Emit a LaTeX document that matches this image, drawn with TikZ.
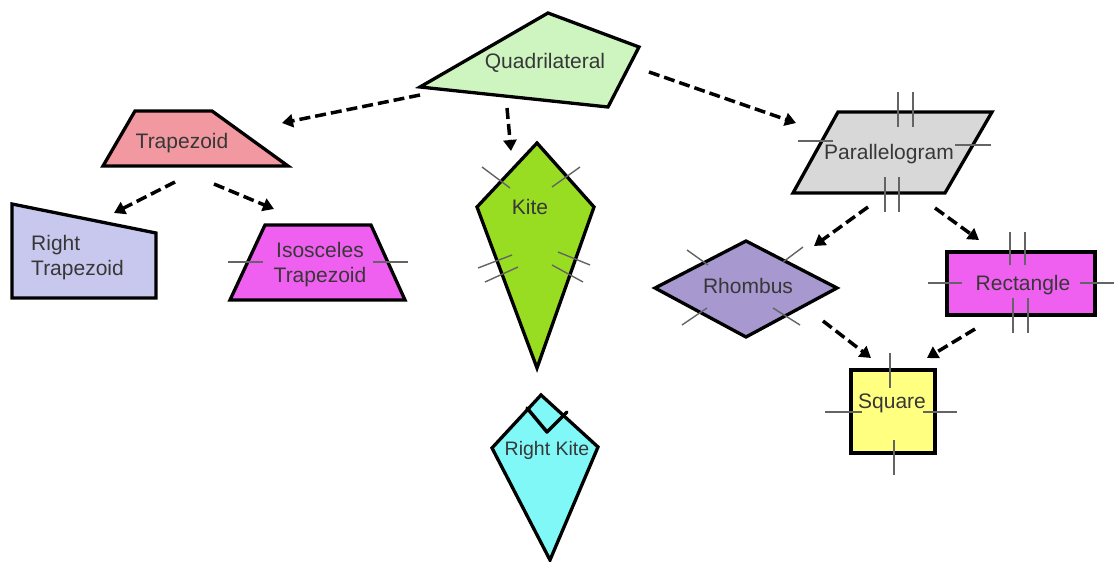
\documentclass[tikz,border=0pt]{standalone}
\usepackage{fontspec}
\setmainfont{Liberation Sans}
\usetikzlibrary{arrows.meta}
\definecolor{cQuad}{RGB}{206,245,192}
\definecolor{cTrap}{RGB}{242,152,160}
\definecolor{cRTrap}{RGB}{200,200,238}
\definecolor{cMag}{RGB}{240,96,240}
\definecolor{cKite}{RGB}{153,221,34}
\definecolor{cRKite}{RGB}{128,248,248}
\definecolor{cPara}{RGB}{216,216,216}
\definecolor{cRhom}{RGB}{168,152,208}
\definecolor{cSq}{RGB}{255,255,128}
\definecolor{tickgray}{RGB}{100,100,100}
\definecolor{labelgray}{RGB}{55,55,55}
\begin{document}
\begin{tikzpicture}[x=1pt,y=-1pt,
  shapeline/.style={draw=black,line width=3.3pt,line join=miter},
  tickline/.style={draw=tickgray,line width=1.4pt},
  rightmark/.style={draw=black,line width=3.5pt,line join=round,line cap=round},
  isa/.style={draw=black,line width=3.5pt,dash pattern=on 11pt off 5pt,-{Triangle[length=11pt,width=13pt]}},
  lbl/.style={text=labelgray,font=\fontsize{21}{25}\selectfont,inner sep=0pt,align=center}]
\useasboundingbox (0,0) rectangle (1114,562);
% ---- shapes
\draw[shapeline,fill=cQuad] (548,13) -- (639,47) -- (608,107) -- (420,87) -- cycle;
\draw[shapeline,fill=cTrap] (135,111) -- (212,111) -- (288,166) -- (103,166) -- cycle;
\draw[shapeline,fill=cRTrap] (12,204) -- (156,233) -- (156,298) -- (12,298) -- cycle;
\draw[shapeline,fill=cMag] (265,225) -- (371,225) -- (405,300) -- (230,300) -- cycle;
\draw[shapeline,fill=cKite] (537,143) -- (594,207) -- (537,368) -- (477,207) -- cycle;
\draw[shapeline,fill=cRKite] (541,395) -- (598,447) -- (550,560) -- (492,448) -- cycle;
\draw[shapeline,fill=cPara] (838,112) -- (992,112) -- (945,193) -- (793,193) -- cycle;
\draw[shapeline,fill=cRhom] (655,288) -- (746,241) -- (837,288) -- (746,337) -- cycle;
\draw[shapeline,fill=cMag] (947,252) rectangle (1095,315);
\draw[shapeline,fill=cSq] (851,370) rectangle (935,453);
% ---- tick marks
\draw[tickline] (228,262) -- (263,262) (373,262) -- (408,262);
\draw[tickline] (482,167) -- (510,188) (580,167) -- (552,187)
  (478,268) -- (512,255) (485,282) -- (518,267)
  (558,252) -- (590,265) (552,265) -- (583,282);
\draw[tickline] (898,92) -- (898,127) (913,92) -- (913,127)
  (885,177) -- (885,212) (899,177) -- (899,212)
  (798,141) -- (833,141) (955,145) -- (991,145);
\draw[tickline] (687,250) -- (708,265) (803,247) -- (783,262)
  (682,325) -- (707,308) (773,308) -- (800,325);
\draw[tickline] (1010,232) -- (1010,265) (1025,232) -- (1025,265)
  (1013,298) -- (1013,333) (1028,298) -- (1028,333)
  (928,283) -- (962,283) (1080,283) -- (1114,283);
\draw[tickline] (890,353) -- (890,388) (894,440) -- (894,475)
  (825,412) -- (862,412) (923,412) -- (957,412);
\draw[rightmark] (527,408) -- (547,432) -- (567,412);
% ---- labels
\node[lbl] (quad) at (545,63) {Quadrilateral};
\node[lbl] (trap) at (182,143) {Trapezoid};
\node[lbl,align=left,anchor=west] (rtrap) at (31,258) {Right\\Trapezoid};
\node[lbl] (itrap) at (320,265) {Isosceles\\Trapezoid};
\node[lbl] (kite) at (530,207) {Kite};
\node[lbl,font=\fontsize{19.5}{23}\selectfont] (rkite) at (547,450) {Right Kite};
\node[lbl] (para) at (889,154) {Parallelogram};
\node[lbl] (rhom) at (748,286) {Rhombus};
\node[lbl] (rect) at (1023,285) {Rectangle};
\node[lbl] (sq) at (892,403) {Square};
% ---- connector ends
\coordinate (qt1) at (420,95);  \coordinate (qt2) at (282,123);
\coordinate (qk1) at (507,108); \coordinate (qk2) at (511,151);
\coordinate (qp1) at (649,72);  \coordinate (qp2) at (796,123);
\coordinate (tr1) at (175,182); \coordinate (tr2) at (114,213);
\coordinate (ti1) at (214,184); \coordinate (ti2) at (274,209);
\coordinate (pr1) at (868,207); \coordinate (pr2) at (814,246);
\coordinate (pc1) at (935,208); \coordinate (pc2) at (979,240);
\coordinate (rs1) at (823,321); \coordinate (rs2) at (871,358);
\coordinate (cs1) at (975,329); \coordinate (cs2) at (927,358);
\draw[isa] (qt1) -- (qt2);
\draw[isa] (qk1) -- (qk2);
\draw[isa] (qp1) -- (qp2);
\draw[isa] (tr1) -- (tr2);
\draw[isa] (ti1) -- (ti2);
\draw[isa] (pr1) -- (pr2);
\draw[isa] (pc1) -- (pc2);
\draw[isa] (rs1) -- (rs2);
\draw[isa] (cs1) -- (cs2);
\end{tikzpicture}
\end{document}
